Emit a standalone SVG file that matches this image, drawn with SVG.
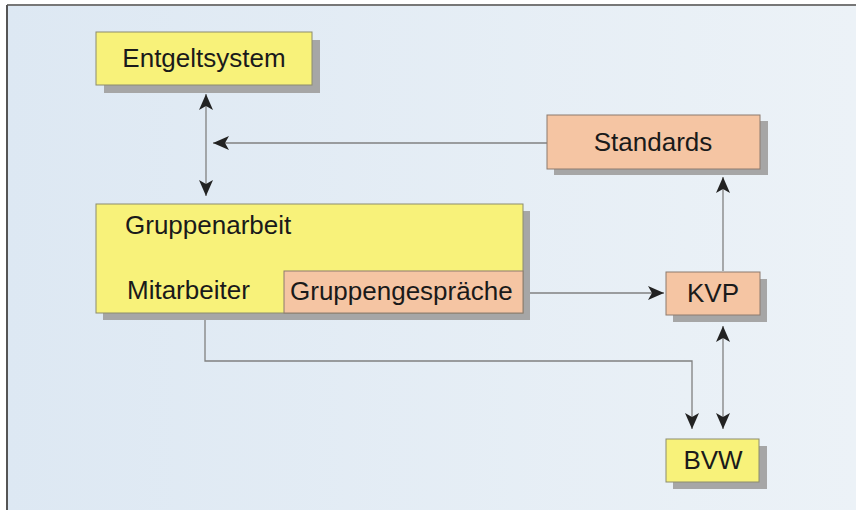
<svg xmlns="http://www.w3.org/2000/svg" width="856" height="510" viewBox="0 0 856 510">
<defs>
<linearGradient id="bg" x1="0" y1="0" x2="1" y2="0">
<stop offset="0" stop-color="#dde8f3"/>
<stop offset="1" stop-color="#ecf2f7"/>
</linearGradient>
<marker id="ah" viewBox="0 0 16 14" refX="16" refY="7" markerWidth="16" markerHeight="14" markerUnits="userSpaceOnUse" orient="auto-start-reverse">
<path d="M0,0 L16,7 L0,14 L4,7 Z" fill="#222"/>
</marker>
<style>
.sh{fill:#a6a6a6}
.y{fill:#f8f27a;stroke:#8c8c6e;stroke-width:1}
.s{fill:#f5c5a3;stroke:#8c7a6e;stroke-width:1}
.t{font-family:"Liberation Sans",Arial,sans-serif;font-size:26px;fill:#1a1a1a}
.c{stroke:#808080;stroke-width:1.3;fill:none}
</style>
</defs>
<rect x="0" y="0" width="856" height="510" fill="#ffffff"/>
<rect x="7" y="5" width="849" height="505" fill="url(#bg)"/>
<line x1="7" y1="5" x2="856" y2="5" stroke="#777" stroke-width="2"/>
<line x1="7" y1="5" x2="7" y2="510" stroke="#555" stroke-width="2"/>

<g id="connectors">
<line class="c" x1="206" y1="94" x2="206" y2="196" marker-start="url(#ah)" marker-end="url(#ah)"/>
<line class="c" x1="547" y1="143" x2="213" y2="143" marker-end="url(#ah)"/>
<line class="c" x1="523" y1="293" x2="664" y2="293" marker-end="url(#ah)"/>
<line class="c" x1="723" y1="271" x2="723" y2="177" marker-end="url(#ah)"/>
<line class="c" x1="723" y1="326" x2="723" y2="429" marker-start="url(#ah)" marker-end="url(#ah)"/>
<polyline class="c" points="205,313 205,361 692,361 692,429" marker-end="url(#ah)"/>
</g>

<g id="entgeltsystem">
<rect class="sh" x="104" y="40" width="216" height="53"/>
<rect class="y" x="96" y="32" width="216" height="53"/>
<text class="t" x="204" y="67" text-anchor="middle">Entgeltsystem</text>
</g>

<g id="gruppenarbeit">
<rect class="sh" x="103" y="211" width="427" height="109"/>
<rect class="y" x="96" y="204" width="427" height="109"/>
<text class="t" x="125" y="234">Gruppenarbeit</text>
<text class="t" x="127" y="299">Mitarbeiter</text>
</g>

<g id="gruppengespraeche">
<rect class="s" x="284" y="271" width="239" height="42"/>
<text class="t" x="290" y="300">Gruppengespräche</text>
</g>

<g id="standards">
<rect class="sh" x="554" y="121" width="214" height="54"/>
<rect class="s" x="547" y="115" width="213" height="54"/>
<text class="t" x="653" y="151" text-anchor="middle">Standards</text>
</g>

<g id="kvp">
<rect class="sh" x="673" y="279" width="94" height="43"/>
<rect class="s" x="666" y="272" width="94" height="43"/>
<text class="t" x="713" y="302" text-anchor="middle">KVP</text>
</g>

<g id="bvw">
<rect class="sh" x="673" y="446" width="94" height="43"/>
<rect class="y" x="666" y="439" width="93" height="43"/>
<text class="t" x="713" y="469" text-anchor="middle">BVW</text>
</g>
</svg>
